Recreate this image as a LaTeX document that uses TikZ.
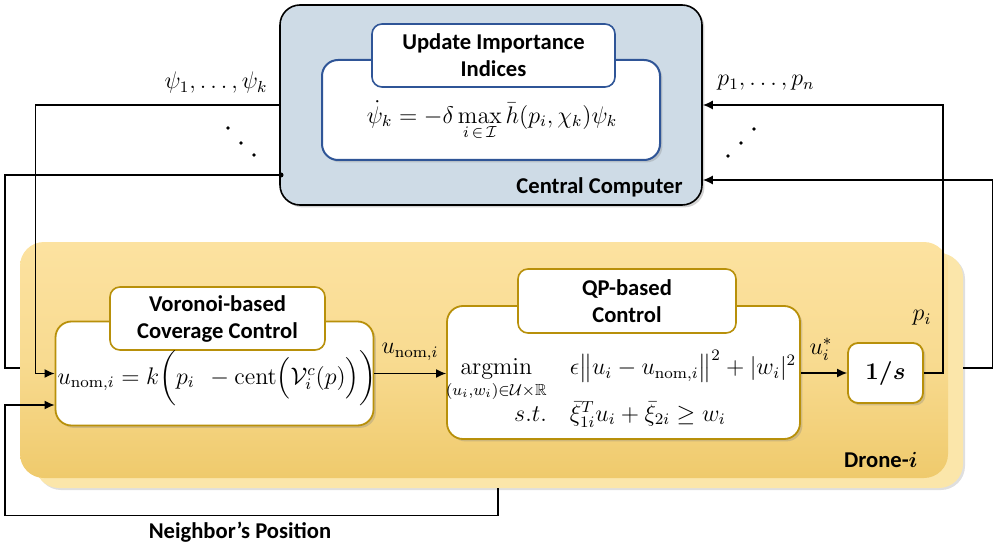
\documentclass[tikz,border=0pt]{standalone}
\usepackage{amsmath,amssymb}
\usepackage[no-math]{fontspec}
\setmainfont{Carlito}
\usetikzlibrary{arrows.meta,shadows,calc}
\definecolor{ccfill}{HTML}{CEDBE6}
\definecolor{blueb}{HTML}{2F5597}
\definecolor{goldb}{HTML}{B8900A}
\definecolor{dlight}{HTML}{FCE2A0}
\definecolor{ddark}{HTML}{EFCA6C}
\definecolor{dback}{HTML}{FBE6AA}
\tikzset{
  lbl/.style={font=\bfseries\fontsize{11.3}{13.5}\selectfont, inner sep=0pt},
  mth/.style={font=\fontsize{11.5}{14}\selectfont, inner sep=0pt},
  ccbox/.style={draw=black, line width=0.8pt, fill=ccfill, rounded corners=10pt, drop shadow={shadow xshift=1.2pt, shadow yshift=-1.2pt, opacity=0.35}},
  bluebox/.style={draw=blueb, line width=1pt, fill=white, rounded corners=8pt, drop shadow={shadow xshift=1.2pt, shadow yshift=-1.2pt, opacity=0.3}},
  goldbox/.style={draw=goldb, line width=0.9pt, fill=white, rounded corners=8pt, drop shadow={shadow xshift=1.2pt, shadow yshift=-1.2pt, opacity=0.3}},
  titleblue/.style={draw=blueb, line width=0.8pt, fill=white, rounded corners=5pt, align=center, lbl},
  titlegold/.style={draw=goldb, line width=0.8pt, fill=white, rounded corners=5pt, align=center, lbl},
  backbox/.style={fill=dback, rounded corners=12pt, drop shadow={shadow xshift=1pt, shadow yshift=-1pt, opacity=0.25}},
  frontbox/.style={top color=dlight, bottom color=ddark, middle color=dlight!70!ddark, rounded corners=12pt},
  wire/.style={line width=0.7pt, black},
  arr/.style={wire, -{Latex[length=5pt,width=4.5pt]}},
}
\begin{document}
\begin{tikzpicture}[x=0.5pt,y=-0.5pt]
\useasboundingbox (0,0) rectangle (1000,545);

% Central computer
\node[ccbox, minimum width=211pt, minimum height=100pt] (cc) at (491,105) {};
\node[bluebox, minimum width=169pt, minimum height=50pt] (upd) at (491,110) {};
\node[titleblue, minimum width=121.5pt, minimum height=31.5pt] (updt) at (493.5,55.5) {Update Importance\\Indices};
\node[mth] (updf) at (492,121) {$\dot{\psi}_k = -\delta \max\limits_{i\,\in\,\mathcal{I}} \bar{h}(p_i,\chi_k)\psi_k$};
\node[lbl, anchor=east] (cclab) at (683,187) {Central Computer};

% Drone boxes
\node[backbox, minimum width=464pt, minimum height=117.5pt] (back) at (499,370.5) {};
\node[frontbox, minimum width=464pt, minimum height=118pt] (front) at (484,360) {};

% Voronoi block
\node[goldbox, minimum width=159pt, minimum height=52pt] (vor) at (214.5,373.5) {};
\node[titlegold, minimum width=107.5pt, minimum height=31.5pt] (vort) at (217.5,318.5) {Voronoi-based\\Coverage Control};
\node[mth] (vorf) at (217,378) {$u_{\mathrm{nom},i} = k\biggl(p_i\ \ -\mathrm{cent}\Bigl(\mathcal{V}_i^c(p)\Bigr)\biggr)$};

% QP block
\node[goldbox, minimum width=176.5pt, minimum height=66.5pt] (qp) at (623.5,372.5) {};
\node[titlegold, minimum width=109pt, minimum height=32pt] (qpt) at (627,301) {QP-based\\Control};
\node[mth] (qpf) at (621,390) {$\begin{array}{r@{\quad}l}
 \operatorname*{argmin}\limits_{(u_i,w_i)\in\mathcal{U}\times\mathbb{R}} & \epsilon\bigl\|u_i-u_{\mathrm{nom},i}\bigr\|^2+|w_i|^2\\[2pt]
 s.t. & \bar{\xi}_{1i}^T u_i+\bar{\xi}_{2i}\ge w_i
\end{array}$};

% Integrator
\node[goldbox, rounded corners=5pt, minimum width=37.5pt, minimum height=30pt, font=\fontsize{13}{15}\selectfont] (sbox) at (885.5,373) {$\boldsymbol{1/s}$};

\node[lbl, anchor=east] (dlab) at (918,460) {Drone-$\boldsymbol{i}$};

% connectors
\draw[arr] (cc.west) -- ++(-244,0) |- (vor.west);
\coordinate (dotp) at (281,175);
\fill (dotp) circle (2.5);
\draw[wire] (dotp) -| (5,368) -- ($(front.west)+(0,8)$);
\draw[arr] ($(back.south)+(-1,0)$) -- ++(0,27) -| (5,405) -- ($(vor.west)+(0,31.5)$);
\draw[arr] (vor.east) -- (vor.east -| qp.west);
\draw[arr] (qp.east |- sbox.west) -- (sbox.west);
\draw[arr] (sbox.east) -- ++(19,0) |- (cc.east);
\draw[arr] ($(back.east)+(0,-2.5)$) -- ++(29,0) |- ($(cc.east)+(0,75)$);

% dots
\fill (228,128) circle (1.8) (241,143) circle (1.8) (254,155) circle (1.8);
\fill (728,156) circle (1.8) (741,143) circle (1.8) (754,129) circle (1.8);

% labels
\node[mth] (psil) at (216,83) {$\psi_1,\ldots,\psi_k$};
\node[mth] (pl) at (766,83) {$p_1,\ldots,p_n$};
\node[mth] (unl) at (410,352) {$u_{\mathrm{nom},i}$};
\node[mth] (usl) at (821,349) {$u_i^*$};
\node[mth] (pil) at (922,318) {$p_i$};
\node[lbl] (nbl) at (240,532) {Neighbor’s Position};
\end{tikzpicture}
\end{document}
